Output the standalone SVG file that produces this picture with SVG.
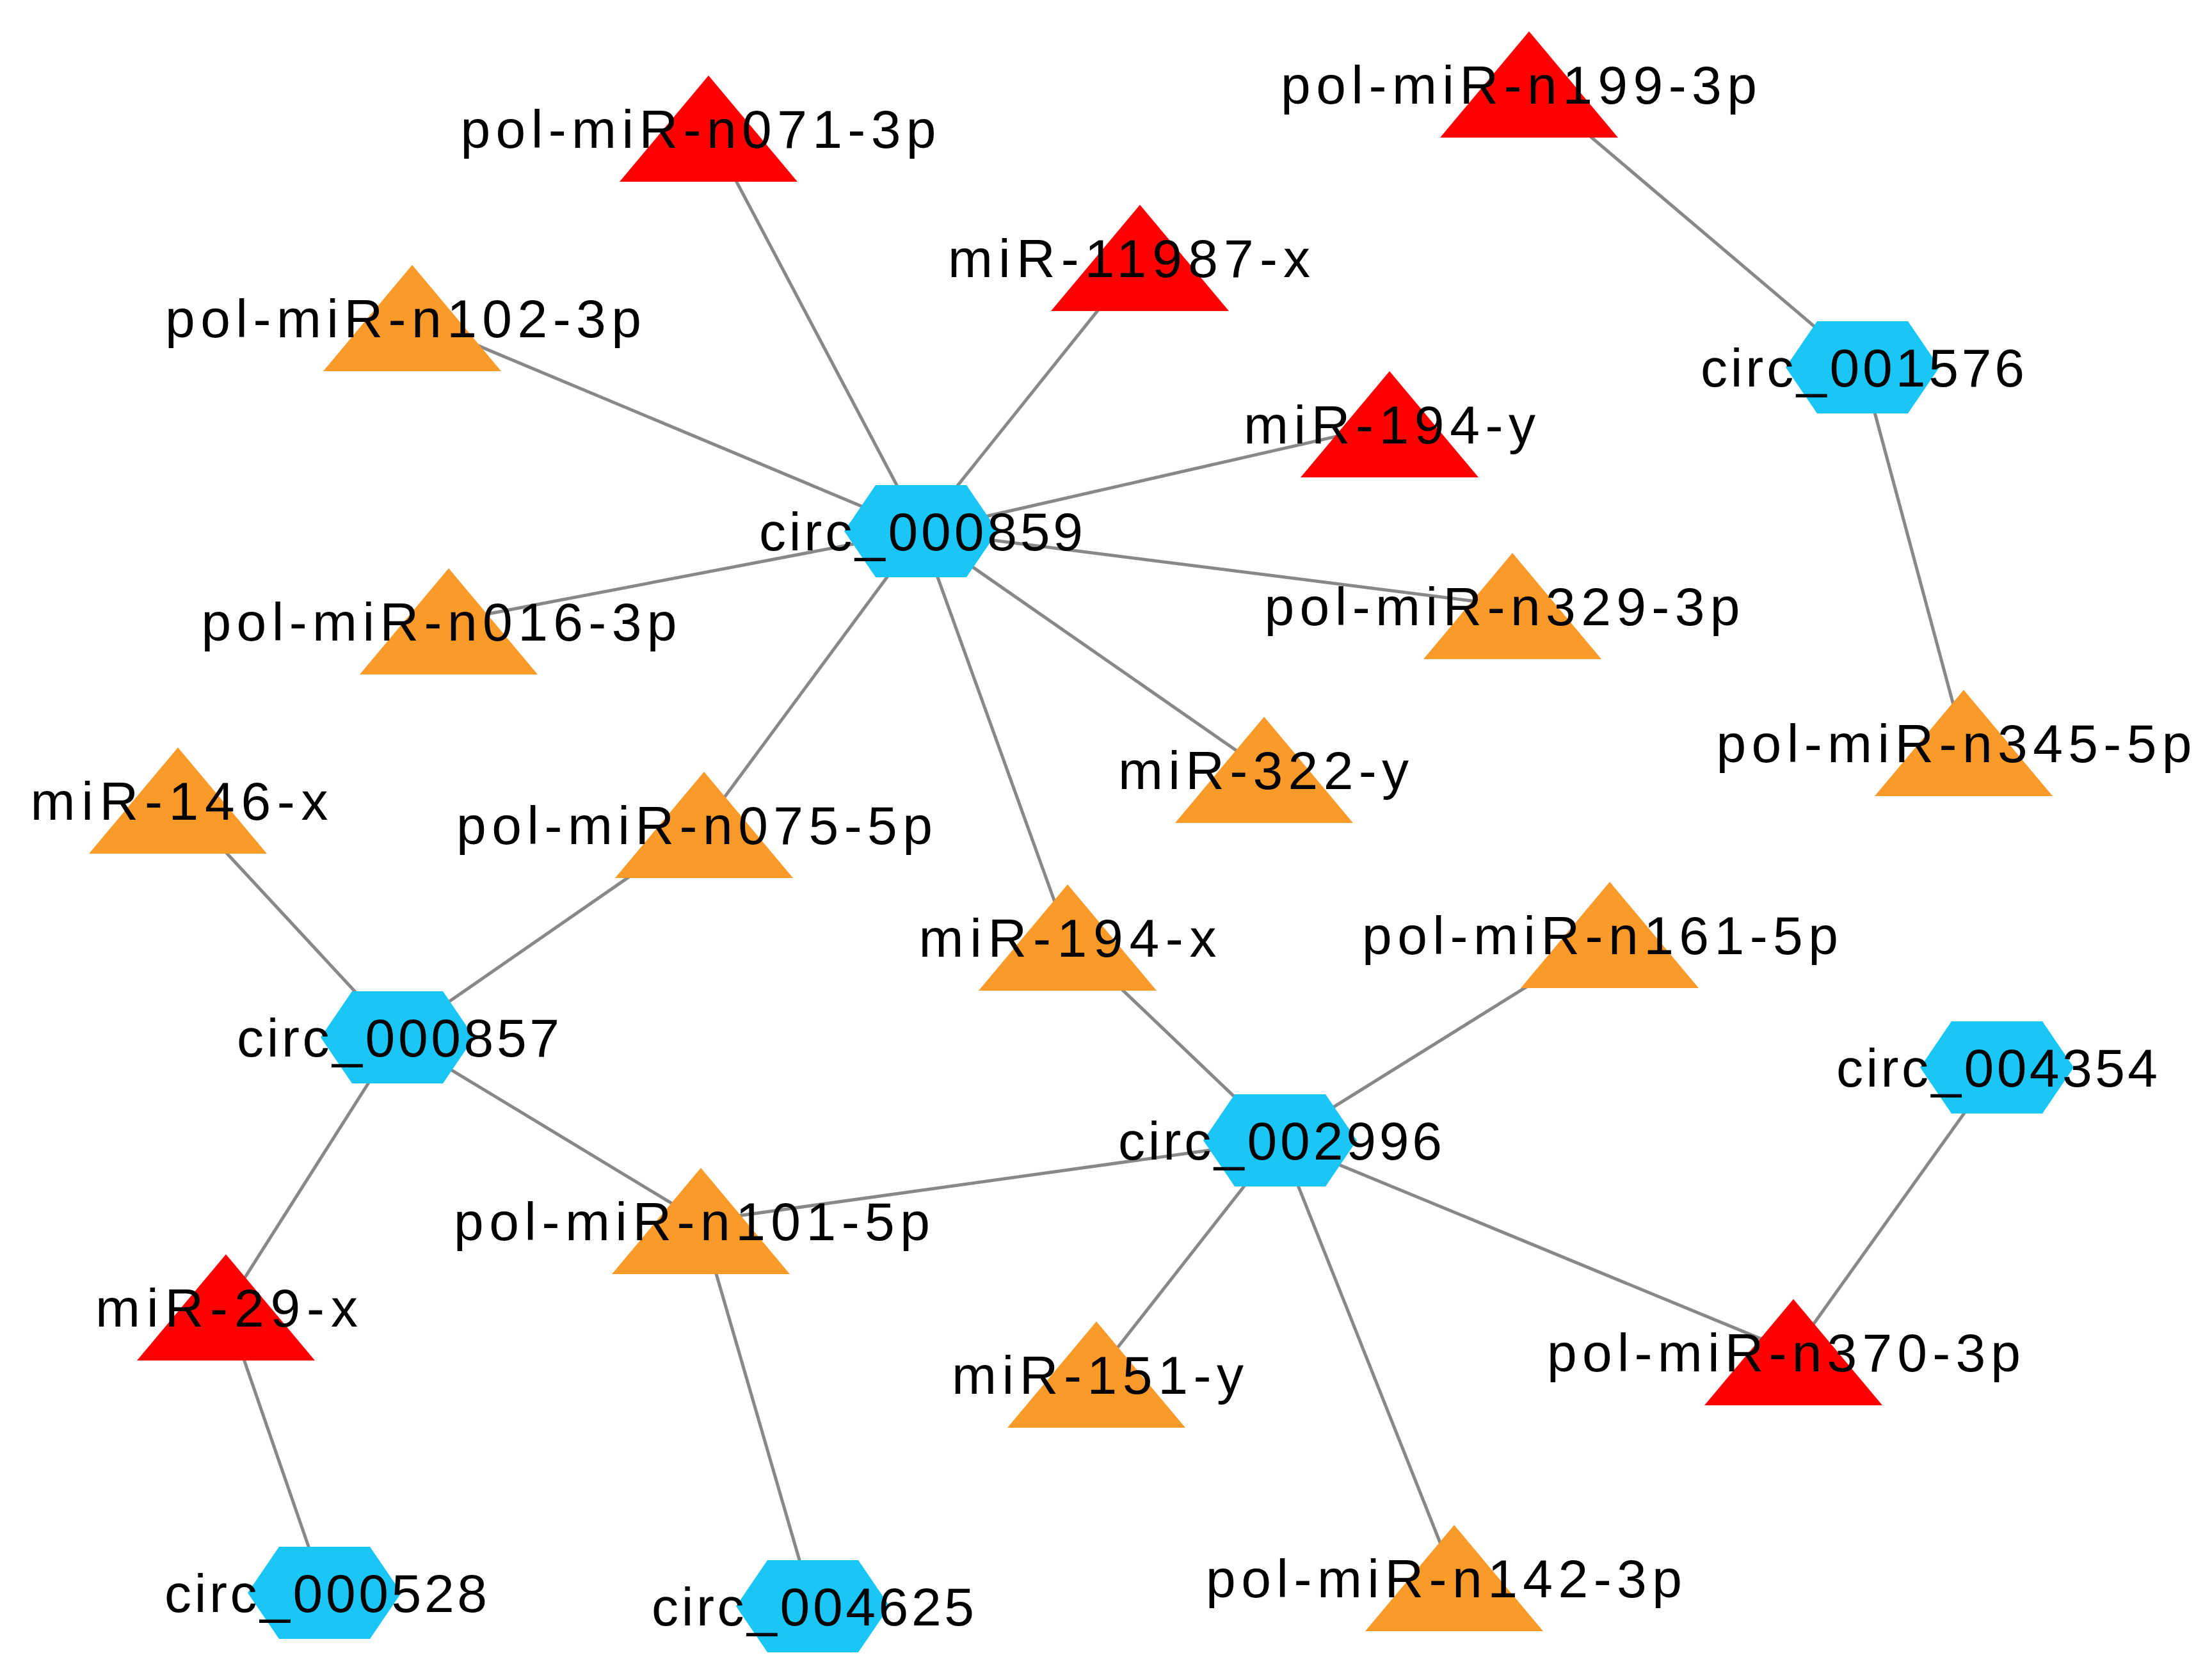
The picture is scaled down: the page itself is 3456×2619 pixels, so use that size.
<svg xmlns="http://www.w3.org/2000/svg" width="3456" height="2619" viewBox="0 0 3456 2619">
<style>
.e{stroke:#888888;stroke-width:5;fill:none}
.h{fill:#19C6F5}
.r{fill:#FF0000}
.o{fill:#FA9A28}
text{font-family:"Liberation Sans",Arial,sans-serif;font-size:84px;fill:#000;text-anchor:middle}
</style>
<defs>
<polygon id="hex" points="-120,0 -71,-72 71,-72 120,0 71,72 -71,72"/>
<polygon id="tri" points="0,-83 -139,83 139,83"/>
</defs>
<rect width="3456" height="2619" fill="#fff"/>
<g id="edges">
<line class="e" x1="1439" y1="830" x2="1107" y2="201"/>
<line class="e" x1="1439" y1="830" x2="1781" y2="403"/>
<line class="e" x1="1439" y1="830" x2="644" y2="497"/>
<line class="e" x1="1439" y1="830" x2="2171" y2="663"/>
<line class="e" x1="1439" y1="830" x2="701" y2="971"/>
<line class="e" x1="1439" y1="830" x2="2363" y2="947"/>
<line class="e" x1="1439" y1="830" x2="1975" y2="1203"/>
<line class="e" x1="1439" y1="830" x2="1100" y2="1289"/>
<line class="e" x1="1439" y1="830" x2="1668" y2="1465"/>
<line class="e" x1="2910" y1="574" x2="2389" y2="132"/>
<line class="e" x1="2910" y1="574" x2="3068" y2="1161"/>
<line class="e" x1="621" y1="1621" x2="278" y2="1251"/>
<line class="e" x1="621" y1="1621" x2="1100" y2="1289"/>
<line class="e" x1="621" y1="1621" x2="1095" y2="1908"/>
<line class="e" x1="621" y1="1621" x2="353" y2="2043"/>
<line class="e" x1="2000" y1="1782" x2="1668" y2="1465"/>
<line class="e" x1="2000" y1="1782" x2="2515" y2="1461"/>
<line class="e" x1="2000" y1="1782" x2="1095" y2="1908"/>
<line class="e" x1="2000" y1="1782" x2="1713" y2="2148"/>
<line class="e" x1="2000" y1="1782" x2="2802" y2="2113"/>
<line class="e" x1="2000" y1="1782" x2="2272" y2="2466"/>
<line class="e" x1="3120" y1="1668" x2="2802" y2="2113"/>
<line class="e" x1="353" y1="2043" x2="507" y2="2489"/>
<line class="e" x1="1095" y1="1908" x2="1270" y2="2510"/>
</g>
<g id="n_circ_000859"><use href="#hex" class="h" x="1439" y="830"/><text x="1439" y="860" textLength="506" lengthAdjust="spacing">circ_000859</text></g>
<g id="n_circ_001576"><use href="#hex" class="h" x="2910" y="574"/><text x="2910" y="604" textLength="506" lengthAdjust="spacing">circ_001576</text></g>
<g id="n_circ_000857"><use href="#hex" class="h" x="621" y="1621"/><text x="622" y="1651" textLength="504" lengthAdjust="spacing">circ_000857</text></g>
<g id="n_circ_002996"><use href="#hex" class="h" x="2000" y="1782"/><text x="2000" y="1812" textLength="506" lengthAdjust="spacing">circ_002996</text></g>
<g id="n_circ_004354"><use href="#hex" class="h" x="3120" y="1668"/><text x="3120" y="1698" textLength="502" lengthAdjust="spacing">circ_004354</text></g>
<g id="n_circ_000528"><use href="#hex" class="h" x="507" y="2489"/><text x="509" y="2519" textLength="504" lengthAdjust="spacing">circ_000528</text></g>
<g id="n_circ_004625"><use href="#hex" class="h" x="1270" y="2510"/><text x="1270" y="2540" textLength="504" lengthAdjust="spacing">circ_004625</text></g>
<g id="n_n071_3p"><use href="#tri" class="r" x="1107" y="201"/><text x="1091" y="231" textLength="743" lengthAdjust="spacing">pol-miR-n071-3p</text></g>
<g id="n_11987_x"><use href="#tri" class="r" x="1781" y="403"/><text x="1764" y="433" textLength="566" lengthAdjust="spacing">miR-11987-x</text></g>
<g id="n_n199_3p"><use href="#tri" class="r" x="2389" y="132"/><text x="2373" y="162" textLength="744" lengthAdjust="spacing">pol-miR-n199-3p</text></g>
<g id="n_n102_3p"><use href="#tri" class="o" x="644" y="497"/><text x="630" y="527" textLength="744" lengthAdjust="spacing">pol-miR-n102-3p</text></g>
<g id="n_194_y"><use href="#tri" class="r" x="2171" y="663"/><text x="2171" y="693" textLength="456" lengthAdjust="spacing">miR-194-y</text></g>
<g id="n_n016_3p"><use href="#tri" class="o" x="701" y="971"/><text x="686" y="1001" textLength="743" lengthAdjust="spacing">pol-miR-n016-3p</text></g>
<g id="n_n329_3p"><use href="#tri" class="o" x="2363" y="947"/><text x="2347" y="977" textLength="743" lengthAdjust="spacing">pol-miR-n329-3p</text></g>
<g id="n_322_y"><use href="#tri" class="o" x="1975" y="1203"/><text x="1974" y="1233" textLength="454" lengthAdjust="spacing">miR-322-y</text></g>
<g id="n_n345_5p"><use href="#tri" class="o" x="3068" y="1161"/><text x="3053" y="1191" textLength="743" lengthAdjust="spacing">pol-miR-n345-5p</text></g>
<g id="n_146_x"><use href="#tri" class="o" x="278" y="1251"/><text x="280" y="1281" textLength="465" lengthAdjust="spacing">miR-146-x</text></g>
<g id="n_n075_5p"><use href="#tri" class="o" x="1100" y="1289"/><text x="1085" y="1319" textLength="744" lengthAdjust="spacing">pol-miR-n075-5p</text></g>
<g id="n_194_x"><use href="#tri" class="o" x="1668" y="1465"/><text x="1668" y="1495" textLength="465" lengthAdjust="spacing">miR-194-x</text></g>
<g id="n_n161_5p"><use href="#tri" class="o" x="2515" y="1461"/><text x="2500" y="1491" textLength="744" lengthAdjust="spacing">pol-miR-n161-5p</text></g>
<g id="n_n101_5p"><use href="#tri" class="o" x="1095" y="1908"/><text x="1081" y="1938" textLength="744" lengthAdjust="spacing">pol-miR-n101-5p</text></g>
<g id="n_29_x"><use href="#tri" class="r" x="353" y="2043"/><text x="354" y="2073" textLength="410" lengthAdjust="spacing">miR-29-x</text></g>
<g id="n_151_y"><use href="#tri" class="o" x="1713" y="2148"/><text x="1715" y="2178" textLength="456" lengthAdjust="spacing">miR-151-y</text></g>
<g id="n_n370_3p"><use href="#tri" class="r" x="2802" y="2113"/><text x="2787" y="2143" textLength="740" lengthAdjust="spacing">pol-miR-n370-3p</text></g>
<g id="n_n142_3p"><use href="#tri" class="o" x="2272" y="2466"/><text x="2256" y="2496" textLength="744" lengthAdjust="spacing">pol-miR-n142-3p</text></g>
</svg>
